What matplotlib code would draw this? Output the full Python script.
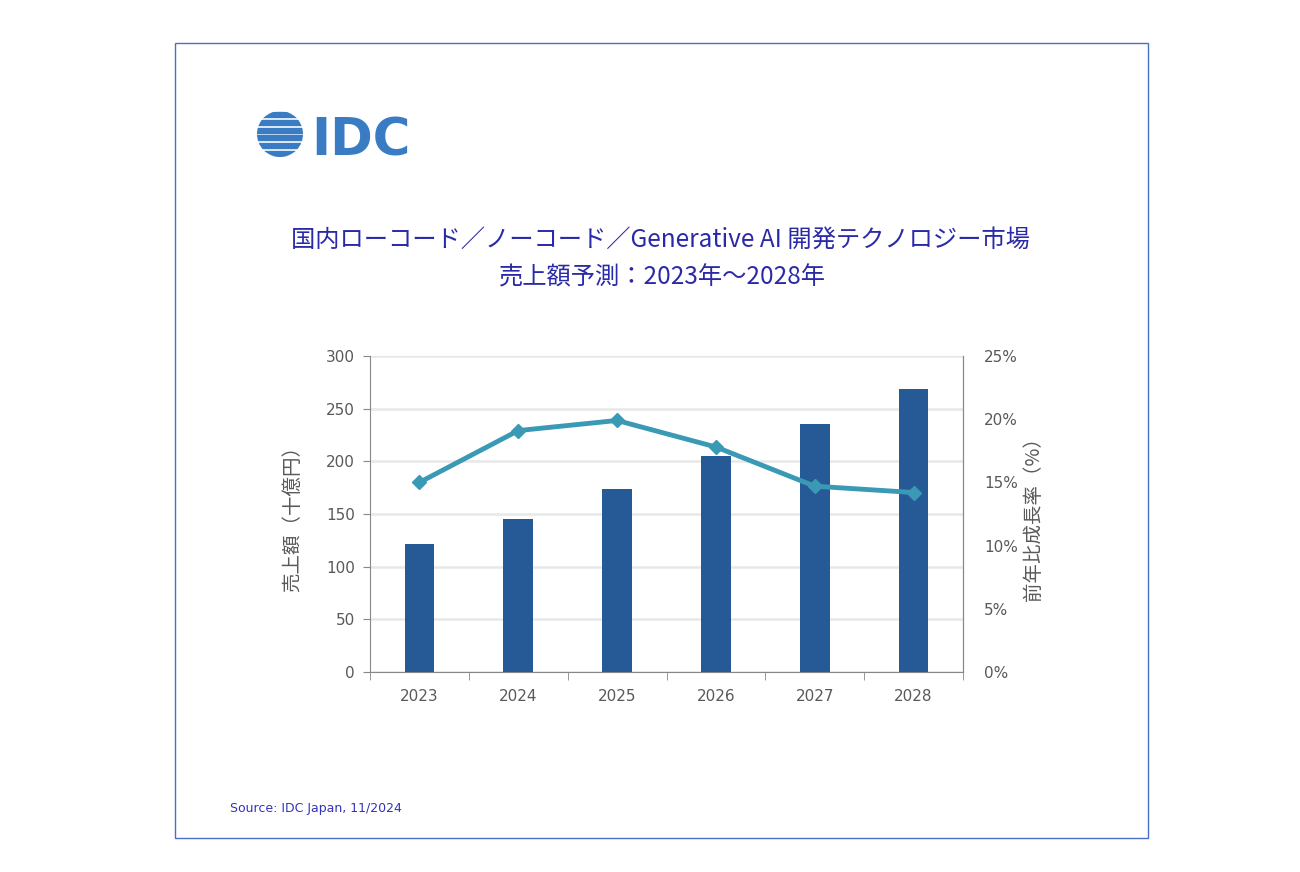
import matplotlib
matplotlib.use("Agg")
import matplotlib.pyplot as plt
from matplotlib.patches import Rectangle, Circle
import numpy as np

plt.rcParams['font.family'] = ['Noto Sans CJK JP', 'DejaVu Sans']

years = ["2023", "2024", "2025", "2026", "2027", "2028"]
sales = [121.5, 145, 174, 205, 235.5, 269]          # 十億円
growth = [15.0, 19.1, 19.9, 17.8, 14.7, 14.2]        # %
left_ticks = [0, 50, 100, 150, 200, 250, 300]
right_ticks = [0, 5, 10, 15, 20, 25]

title_line1 = "国内ローコード／ノーコード／Generative AI 開発テクノロジー市場"
title_line2 = "売上額予測：2023年～2028年"
ylabel_left = "売上額（十億円）"
ylabel_right = "前年比成長率（%）"
source = "Source: IDC Japan, 11/2024"

W, H = 1300, 872
fig = plt.figure(figsize=(W / 100, H / 100), dpi=100)
fig.patch.set_facecolor("white")

# outer frame
fig.patches.append(Rectangle((175 / W, 1 - 838 / H), (1148 - 175) / W, (838 - 43) / H,
                             transform=fig.transFigure, fill=False, edgecolor="#4a6fc7", lw=1.0))

# logo
logo_blue = "#3a7cc4"
lax = fig.add_axes([257 / W, 1 - 157 / H, 46 / W, 46 / H])
lax.set_xlim(-1, 1); lax.set_ylim(-1, 1); lax.set_aspect('equal'); lax.axis('off')
circ = Circle((0, 0), 1.0, transform=lax.transData)
for yv in np.linspace(-0.85, 0.85, 6):
    r = Rectangle((-1.1, yv - 0.11), 2.2, 0.22, color=logo_blue)
    lax.add_patch(r)
    r.set_clip_path(circ)
fig.text(311 / W, 1 - 155 / H, "IDC", fontsize=37, color=logo_blue, family="DejaVu Sans",
         fontweight="bold", ha="left", va="baseline")

# title
fig.text(660 / W, 1 - 240 / H, title_line1, fontsize=17.5, color="#2a2aa8", ha="center", va="center")
fig.text(662 / W, 1 - 278 / H, title_line2, fontsize=17.5, color="#2a2aa8", ha="center", va="center")

# main axes
ax = fig.add_axes([370 / W, 1 - 672 / H, (963 - 370) / W, (672 - 356) / H])
x = np.arange(len(years))
ax.bar(x, sales, width=0.3, color="#255a97", zorder=3)
ax.set_xlim(-0.5, len(years) - 0.5)
ax.set_ylim(0, 300)
ax.set_yticks(left_ticks)
ax.set_yticklabels([str(v) for v in left_ticks])
ax.set_xticks(x)
ax.set_xticklabels(years)
ax.set_xticks(np.arange(-0.5, len(years), 1), minor=True)
ax.tick_params(axis='x', which='major', length=0, pad=12, labelsize=11, labelcolor="#595959",
               labelfontfamily="DejaVu Sans")
ax.tick_params(axis='x', which='minor', length=6, color="#888888", direction='out')
ax.tick_params(axis='y', length=5, color="#888888", labelsize=11, labelcolor="#595959", pad=6,
               labelfontfamily="DejaVu Sans")
ax.yaxis.grid(True, color="#e8e8e8", lw=1.8, zorder=0)
ax.set_axisbelow(True)
for s in ["left", "bottom", "right"]:
    ax.spines[s].set_color("#888888")
ax.spines["top"].set_visible(False)
ax.set_ylabel(ylabel_left, fontsize=14, color="#595959", labelpad=16)

ax2 = ax.twinx()
ax2.plot(x, growth, color="#3a9ab5", lw=3.5, marker="D", markersize=7.5, zorder=4)
ax2.set_ylim(0, 25)
ax2.set_yticks(right_ticks)
ax2.set_yticklabels([f"{v}%" for v in right_ticks])
ax2.tick_params(axis='y', length=0, labelsize=11, labelcolor="#595959", pad=15,
                labelfontfamily="DejaVu Sans")
for s in ["left", "bottom", "top"]:
    ax2.spines[s].set_visible(False)
ax2.spines["right"].set_color("#888888")
ax2.set_ylabel(ylabel_right, fontsize=14, color="#595959", labelpad=4)

fig.text(230 / W, 1 - 808 / H, source, fontsize=9, color="#3333bb", family="DejaVu Sans",
         ha="left", va="center")

fig.savefig("out.png", dpi=100, facecolor="white")
